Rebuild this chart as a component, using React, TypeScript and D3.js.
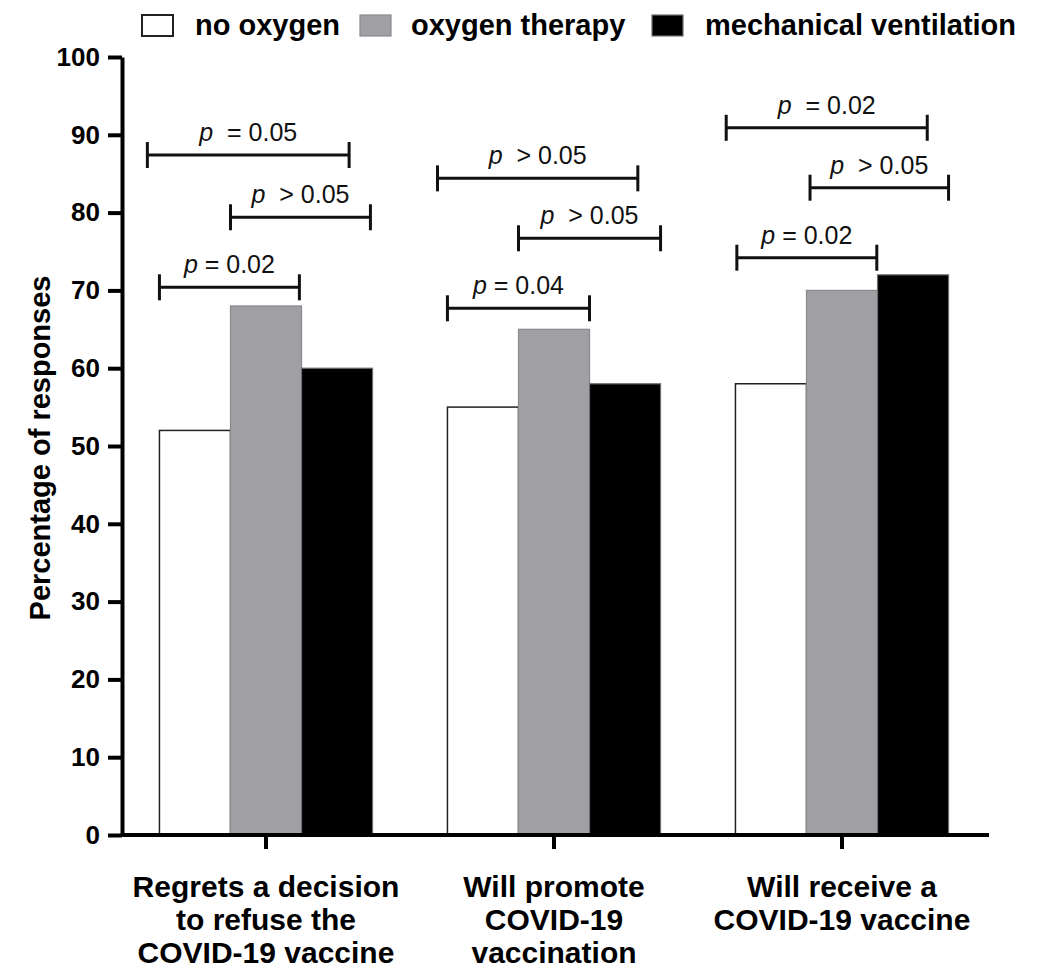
import React, { useRef, useEffect } from "react";
import * as d3 from "d3";

// categorias del eje x (una linea por fila de texto)
const categories = ["regret", "promote", "receive"];
const categoryLines = [
  ["Regrets a decision", "to refuse the", "COVID-19 vaccine"],
  ["Will promote", "COVID-19", "vaccination"],
  ["Will receive a", "COVID-19 vaccine"],
];

const seriesNames = ["no oxygen", "oxygen therapy", "mechanical ventilation"];
const seriesColors = ["#ffffff", "#a0a0a4", "#000000"];
const seriesStrokes = ["#222222", "#8a8a8e", "#6f6f6f"];

// valores (%) por serie, en el orden de categories
const noOxygen = [52, 55, 58];
const oxygenTherapy = [68, 65, 70];
const mechanicalVentilation = [60, 58, 72];
const seriesValues = [noOxygen, oxygenTherapy, mechanicalVentilation];

const yTicks = [0, 10, 20, 30, 40, 50, 60, 70, 80, 90, 100];

// comparaciones: categoria, desde/hasta (en anchos de barra), nivel (%), texto
const bracketCat = [0, 0, 0, 1, 1, 1, 2, 2, 2];
const bracketFrom = [-0.17, 1, 0, -0.14, 1, 0, -0.13, 1.05, 0.02];
const bracketTo = [2.67, 2.97, 1.97, 2.68, 3, 2, 2.7, 3, 1.99];
const bracketLevel = [87.4, 79.4, 70.4, 84.4, 76.7, 67.7, 90.9, 83.2, 74.2];
const bracketOp = ["  = 0.05", "  > 0.05", " = 0.02", "  > 0.05", "  > 0.05", " = 0.04", "  = 0.02", "  > 0.05", " = 0.02"];

const W = 1040;
const H = 968;
const FONT = "'Liberation Sans', Arial, sans-serif";

const App = () => {
  const yAxisRef = useRef<SVGGElement>(null);
  const xAxisRef = useRef<SVGGElement>(null);

  const y = d3.scaleLinear().domain([0, 100]).range([835, 57]);
  const x0 = d3
    .scaleBand<string>()
    .domain(categories)
    .range([122, 986])
    .paddingInner(0.26)
    .paddingOuter(0.13);
  const x1 = d3
    .scaleBand<number>()
    .domain([0, 1, 2])
    .range([0, x0.bandwidth()]);
  const bw = x1.bandwidth();

  useEffect(() => {
    const ya = d3.select(yAxisRef.current);
    ya.selectAll("*").remove();
    ya.call(
      d3.axisLeft(y).tickValues(yTicks).tickSize(14).tickSizeOuter(0).tickPadding(8)
    );
    ya.select(".domain").attr("stroke-width", 4).attr("stroke", "#000");
    ya.selectAll(".tick line").attr("stroke-width", 4).attr("stroke", "#000");
    ya.selectAll(".tick text")
      .attr("font-family", FONT)
      .attr("font-weight", "bold")
      .attr("font-size", 26)
      .attr("fill", "#000");

    const xa = d3.select(xAxisRef.current);
    xa.selectAll("*").remove();
    xa.call(d3.axisBottom(x0).tickSize(14).tickSizeOuter(0).tickFormat(() => ""));
    xa.select(".domain").remove();
    xa.selectAll(".tick line").attr("stroke-width", 4).attr("stroke", "#000");
  }, []);

  return (
    <svg
      width={W}
      height={H}
      style={{ position: "absolute", left: 0, top: 0, background: "#fff" }}
    >
      {/* barras */}
      {categories.map((c, ci) => (
        <g key={c} transform={`translate(${x0(c)},0)`}>
          {seriesValues.map((vals, si) => (
            <rect
              key={si}
              x={x1(si)}
              y={y(vals[ci])}
              width={bw}
              height={y(0) - y(vals[ci])}
              fill={seriesColors[si]}
              stroke={seriesStrokes[si]}
              strokeWidth={si === 0 ? 1.5 : 1.2}
            />
          ))}
        </g>
      ))}

      {/* ejes */}
      <g ref={yAxisRef} transform="translate(122,0)" />
      <g ref={xAxisRef} transform={`translate(0,${y(0)})`} />
      <line x1={122} x2={989} y1={y(0)} y2={y(0)} stroke="#000" strokeWidth={4} />

      {/* etiquetas de categorias */}
      {categories.map((c, ci) => (
        <text
          key={c}
          x={(x0(c) ?? 0) + x0.bandwidth() / 2}
          y={897}
          textAnchor="middle"
          fontFamily={FONT}
          fontWeight="bold"
          fontSize={30}
          fill="#000"
        >
          {categoryLines[ci].map((l, li) => (
            <tspan key={li} x={(x0(c) ?? 0) + x0.bandwidth() / 2} dy={li === 0 ? 0 : 33}>
              {l}
            </tspan>
          ))}
        </text>
      ))}

      {/* titulo eje y */}
      <text
        transform={`translate(50,${(y(0) + y(100)) / 2 + 2}) rotate(-90)`}
        textAnchor="middle"
        fontFamily={FONT}
        fontWeight="bold"
        fontSize={29}
        fill="#000"
      >
        Percentage of responses
      </text>

      {/* comparaciones */}
      {bracketCat.map((ci, i) => {
        const base = x0(categories[ci]) ?? 0;
        const xa = base + bracketFrom[i] * bw;
        const xb = base + bracketTo[i] * bw;
        const yy = y(bracketLevel[i]);
        return (
          <g key={i} stroke="#111" strokeWidth={3}>
            <line x1={xa} x2={xb} y1={yy} y2={yy} />
            <line x1={xa} x2={xa} y1={yy - 13} y2={yy + 13} />
            <line x1={xb} x2={xb} y1={yy - 13} y2={yy + 13} />
            <text
              x={(xa + xb) / 2}
              y={yy - 14}
              textAnchor="middle"
              fontFamily={FONT}
              fontSize={25}
              fill="#111"
              stroke="none"
              style={{ whiteSpace: "pre" }}
            >
              <tspan fontStyle="italic">p</tspan>
              <tspan>{bracketOp[i]}</tspan>
            </text>
          </g>
        );
      })}

      {/* leyenda */}
      {seriesNames.map((s, si) => {
        const bx = [142, 360, 652][si];
        const tx = [195, 411, 705][si];
        return (
          <g key={s}>
            <rect
              x={bx}
              y={15}
              width={31}
              height={21}
              fill={seriesColors[si]}
              stroke={si === 0 ? "#222" : seriesStrokes[si]}
              strokeWidth={si === 0 ? 2 : 1.2}
            />
            <text
              x={tx}
              y={35}
              fontFamily={FONT}
              fontWeight="bold"
              fontSize={29}
              fill="#000"
            >
              {s}
            </text>
          </g>
        );
      })}
    </svg>
  );
};

export default App;
